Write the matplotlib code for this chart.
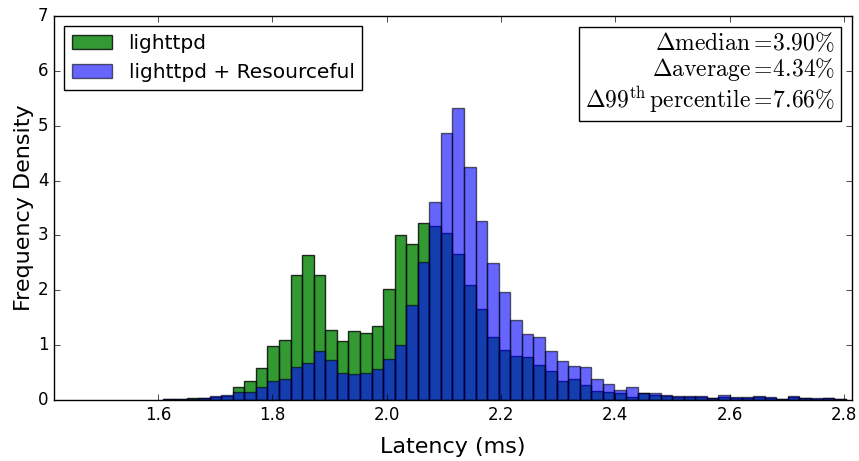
import numpy as np
import matplotlib
matplotlib.use("Agg")
import matplotlib.pyplot as plt

# histogram bins: first edge and bin width in ms
bin_start = 1.6093
bin_width = 0.02023

# frequency density per bin, lighttpd alone
lighttpd = [0.02, 0.02, 0.03, 0.04, 0.06, 0.07, 0.23, 0.35, 0.59, 0.99,
            1.09, 2.28, 2.64, 2.27, 1.28, 1.08, 1.26, 1.22, 1.34, 2.02,
            3.01, 2.84, 3.23, 3.17, 3.05, 2.66, 2.10, 1.65, 1.14, 0.92,
            0.81, 0.79, 0.64, 0.52, 0.35, 0.38, 0.27, 0.16, 0.15, 0.12,
            0.05, 0.12, 0.10, 0.08, 0.06, 0.06, 0.06, 0.03, 0.05, 0.04,
            0.04, 0.05, 0.03, 0.02, 0.05, 0.03, 0.02, 0.03, 0.01]

# frequency density per bin, lighttpd + Resourceful
resourceful = [0.01, 0.01, 0.02, 0.03, 0.07, 0.09, 0.14, 0.15, 0.24, 0.35,
               0.38, 0.61, 0.68, 0.90, 0.73, 0.50, 0.47, 0.49, 0.57, 0.74,
               1.00, 1.74, 2.51, 3.61, 4.87, 5.33, 4.25, 3.26, 2.49, 1.96,
               1.45, 1.20, 1.15, 0.90, 0.71, 0.62, 0.60, 0.38, 0.29, 0.19,
               0.23, 0.13, 0.13, 0.10, 0.07, 0.07, 0.07, 0.03, 0.09, 0.06,
               0.06, 0.08, 0.06, 0.02, 0.07, 0.04, 0.03, 0.03, 0.01]

stats_lines = [r'$\Delta\mathrm{median}=\!3.90\%$',
               r'$\Delta\mathrm{average}=\!4.34\%$',
               r'$\Delta99^{\mathrm{th}}\,\mathrm{percentile}=\!7.66\%$']

plt.style.use('classic')
plt.rcParams['mathtext.fontset'] = 'cm'

edges = bin_start + bin_width * np.arange(len(lighttpd) + 1)
centers = edges[:-1] + bin_width / 2

fig = plt.figure(figsize=(8.59, 4.61), dpi=100, facecolor='white')
ax = fig.add_axes([0.0629, 0.1323, 0.929, 0.833])

ax.hist(centers, bins=edges, weights=lighttpd, color='g', alpha=0.8,
        label='lighttpd')
ax.hist(centers, bins=edges, weights=resourceful, color='b', alpha=0.6,
        label='lighttpd + Resourceful')

ax.set_xlim(1.418, 2.814)
ax.set_ylim(0, 7)
ax.set_xticks([1.6, 1.8, 2.0, 2.2, 2.4, 2.6, 2.8])
ax.tick_params(labelsize=12)
ax.set_xlabel('Latency (ms)', fontsize=16, labelpad=10)
ax.set_ylabel('Frequency Density', fontsize=16, labelpad=3)

ax.legend(loc='upper left', fontsize=14.5)

ax.text(0.979, 0.961, '\n'.join(stats_lines), transform=ax.transAxes,
        ha='right', va='top', multialignment='right', fontsize=17,
        linespacing=1.05,
        bbox=dict(boxstyle='square,pad=0.25', fc='white', ec='black'))

fig.savefig('out.png', dpi=100, facecolor='white')
